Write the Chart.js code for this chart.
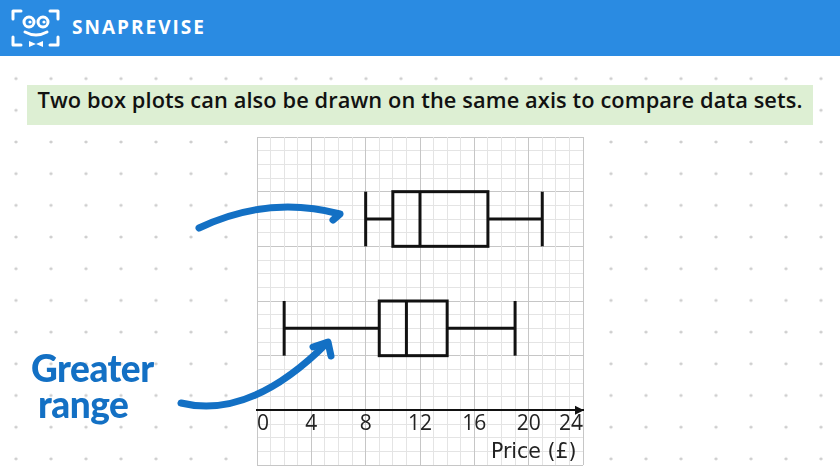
<!DOCTYPE html>
<html>
<head>
<meta charset="utf-8">
<script src="https://cdn.jsdelivr.net/npm/chart.js@4.4.0/dist/chart.umd.min.js"></script>
<style>
  html, body { margin: 0; padding: 0; }
  body {
    width: 840px; height: 472px; position: relative; overflow: hidden;
    background-color: #fff;
    background-image: radial-gradient(circle, #cfcfcf 1.3px, transparent 1.8px);
    background-size: 35px 31.7px;
    background-position: -1.5px -0.6px;
    font-family: 'Open Sans', sans-serif;
  }
  #header {
    position: absolute; left: 0; top: 0; width: 840px; height: 56px;
    background: #2a8be2;
  }
  #logo { position: absolute; left: 0; top: 0; }
  #brand {
    position: absolute; left: 72px; top: 14px;
    color: #fff; font: 700 19px 'Open Sans', sans-serif; letter-spacing: 2px;
  }
  #banner {
    position: absolute; left: 27px; top: 85px; width: 786px; height: 40px;
    background: #ddefd3; text-align: center; line-height: 40px;
    font: 600 21.8px 'Open Sans', sans-serif; color: #111; letter-spacing: 0.1px;
  }
  #chart { position: absolute; left: 0; top: 0; }
  #arrows { position: absolute; left: 0; top: 0; }
  #note {
    position: absolute; left: 31px; top: 350px;
    color: #1370c4; font: 900 37px Lato, sans-serif; line-height: 36px;
    letter-spacing: -0.5px;
  }
  #note span { display: block; }
  #note span + span { margin-left: 7px; }
</style>
</head>
<body>
<div id="header">
  <svg id="logo" width="64" height="56" viewBox="0 0 64 56">
    <g fill="none" stroke="#fff" stroke-width="3" stroke-linecap="round" stroke-linejoin="round">
      <path d="M13 19 V11 H21"/>
      <path d="M50 11 H58 V19"/>
      <path d="M13 37 V45 H21"/>
      <path d="M50 45 H58 V37"/>
      <circle cx="29" cy="22" r="5"/>
      <circle cx="43" cy="22" r="5"/>
      <path d="M25 32 Q36 38 47 32"/>
    </g>
    <circle cx="30" cy="22" r="1.6" fill="#fff"/>
    <circle cx="44" cy="22" r="1.6" fill="#fff"/>
    <path d="M29 41 L36 44 L43 41 L43 47 L36 44 L29 47 Z" fill="#fff"/>
  </svg>
  <div id="brand">SNAPREVISE</div>
</div>
<div id="banner">Two box plots can also be drawn on the same axis to compare data sets.</div>
<canvas id="chart" width="840" height="472"></canvas>
<svg id="arrows" width="840" height="472">
  <g fill="none" stroke="#1370c4" stroke-width="7" stroke-linecap="round" stroke-linejoin="round">
    <path d="M199 228 Q268 195 340 214 L333 220"/>
    <path d="M181 403 Q250 420 327 343"/>
    <path d="M313 347 L328 342 L331 356"/>
  </g>
</svg>
<div id="note"><span>Greater</span><span>range</span></div>

<script>
// two data sets, five-number summaries (price in £)
const setNames = ['Top set', 'Bottom set'];
const mins    = [8, 2];
const q1s     = [10, 9];
const medians = [12, 11];
const q3s     = [17, 14];
const maxs    = [21, 19];
const tickLabels = [0, 4, 8, 12, 16, 20, 24];

const inkColor = '#111';
const minorGrid = '#e4e4e4';
const majorGrid = '#c6c6c6';

/**
 * White paper behind the grid
 */
const paperPlugin = {
  id: 'paper',
  beforeDraw(chart) {
    const { ctx, chartArea: a } = chart;
    ctx.save();
    ctx.fillStyle = '#fff';
    ctx.fillRect(a.left - 1, a.top - 1, a.right - a.left + 2, a.bottom - a.top + 2);
    ctx.restore();
  }
};

/**
 * Box and whisker drawing from the five-number arrays
 */
const boxPlotPlugin = {
  id: 'boxPlots',
  afterDraw(chart, args, opts) {
    const { ctx, scales: { x, y } } = chart;
    const px = v => x.getPixelForValue(v);
    const line = (x1, y1, x2, y2) => {
      ctx.beginPath();
      ctx.moveTo(x1, y1);
      ctx.lineTo(x2, y2);
      ctx.stroke();
    };
    ctx.save();
    ctx.strokeStyle = inkColor;
    ctx.lineWidth = opts.lineWidth;

    setNames.forEach((name, i) => {
      const mid = y.getPixelForValue(opts.rows[i]);
      const top = y.getPixelForValue(opts.rows[i] + opts.halfHeight);
      const bot = y.getPixelForValue(opts.rows[i] - opts.halfHeight);

      line(px(mins[i]), mid, px(q1s[i]), mid);
      line(px(q3s[i]), mid, px(maxs[i]), mid);
      line(px(mins[i]), top, px(mins[i]), bot);
      line(px(maxs[i]), top, px(maxs[i]), bot);
      ctx.strokeRect(px(q1s[i]), top, px(q3s[i]) - px(q1s[i]), bot - top);
      line(px(medians[i]), top, px(medians[i]), bot);
    });

    // arrow head on the price axis
    const ay = y.getPixelForValue(0);
    const ax = x.getPixelForValue(x.max);
    ctx.fillStyle = inkColor;
    ctx.beginPath();
    ctx.moveTo(ax + 1, ay);
    ctx.lineTo(ax - 8, ay - 4.5);
    ctx.lineTo(ax - 8, ay + 4.5);
    ctx.closePath();
    ctx.fill();
    ctx.restore();
  }
};

const gridColor = c => (c.tick && c.tick.value % 4 === 0 ? majorGrid : minorGrid);

new Chart(document.getElementById('chart'), {
  type: 'scatter',
  data: { datasets: [] },
  options: {
    responsive: false,
    animation: false,
    layout: { padding: { left: 257, right: 257, top: 137, bottom: 7 } },
    plugins: {
      legend: { display: false },
      tooltip: { enabled: false },
      boxPlots: { rows: [14, 6], halfHeight: 2, lineWidth: 3 }
    },
    scales: {
      x: {
        type: 'linear',
        min: 0,
        max: 24,
        position: { y: 0 },
        ticks: {
          stepSize: 1,
          autoSkip: false,
          maxRotation: 0,
          align: 'inner',
          padding: 1,
          color: '#222',
          font: { family: "'Open Sans', sans-serif", size: 21 },
          callback: v => (tickLabels.includes(v) ? String(v) : '')
        },
        grid: { color: gridColor, drawTicks: false, lineWidth: 1 },
        border: { display: true, color: inkColor, width: 2 },
        title: {
          display: true,
          text: 'Price (£) ',
          align: 'end',
          color: '#222',
          padding: { top: 3, bottom: 0 },
          font: { family: "'DejaVu Sans', sans-serif", size: 20.5 }
        }
      },
      y: {
        type: 'linear',
        min: -4,
        max: 20,
        ticks: { stepSize: 1, display: false },
        grid: { color: gridColor, drawTicks: false, lineWidth: 1, z: -2 },
        border: { display: false }
      }
    }
  },
  plugins: [paperPlugin, boxPlotPlugin]
});
</script>
</body>
</html>
